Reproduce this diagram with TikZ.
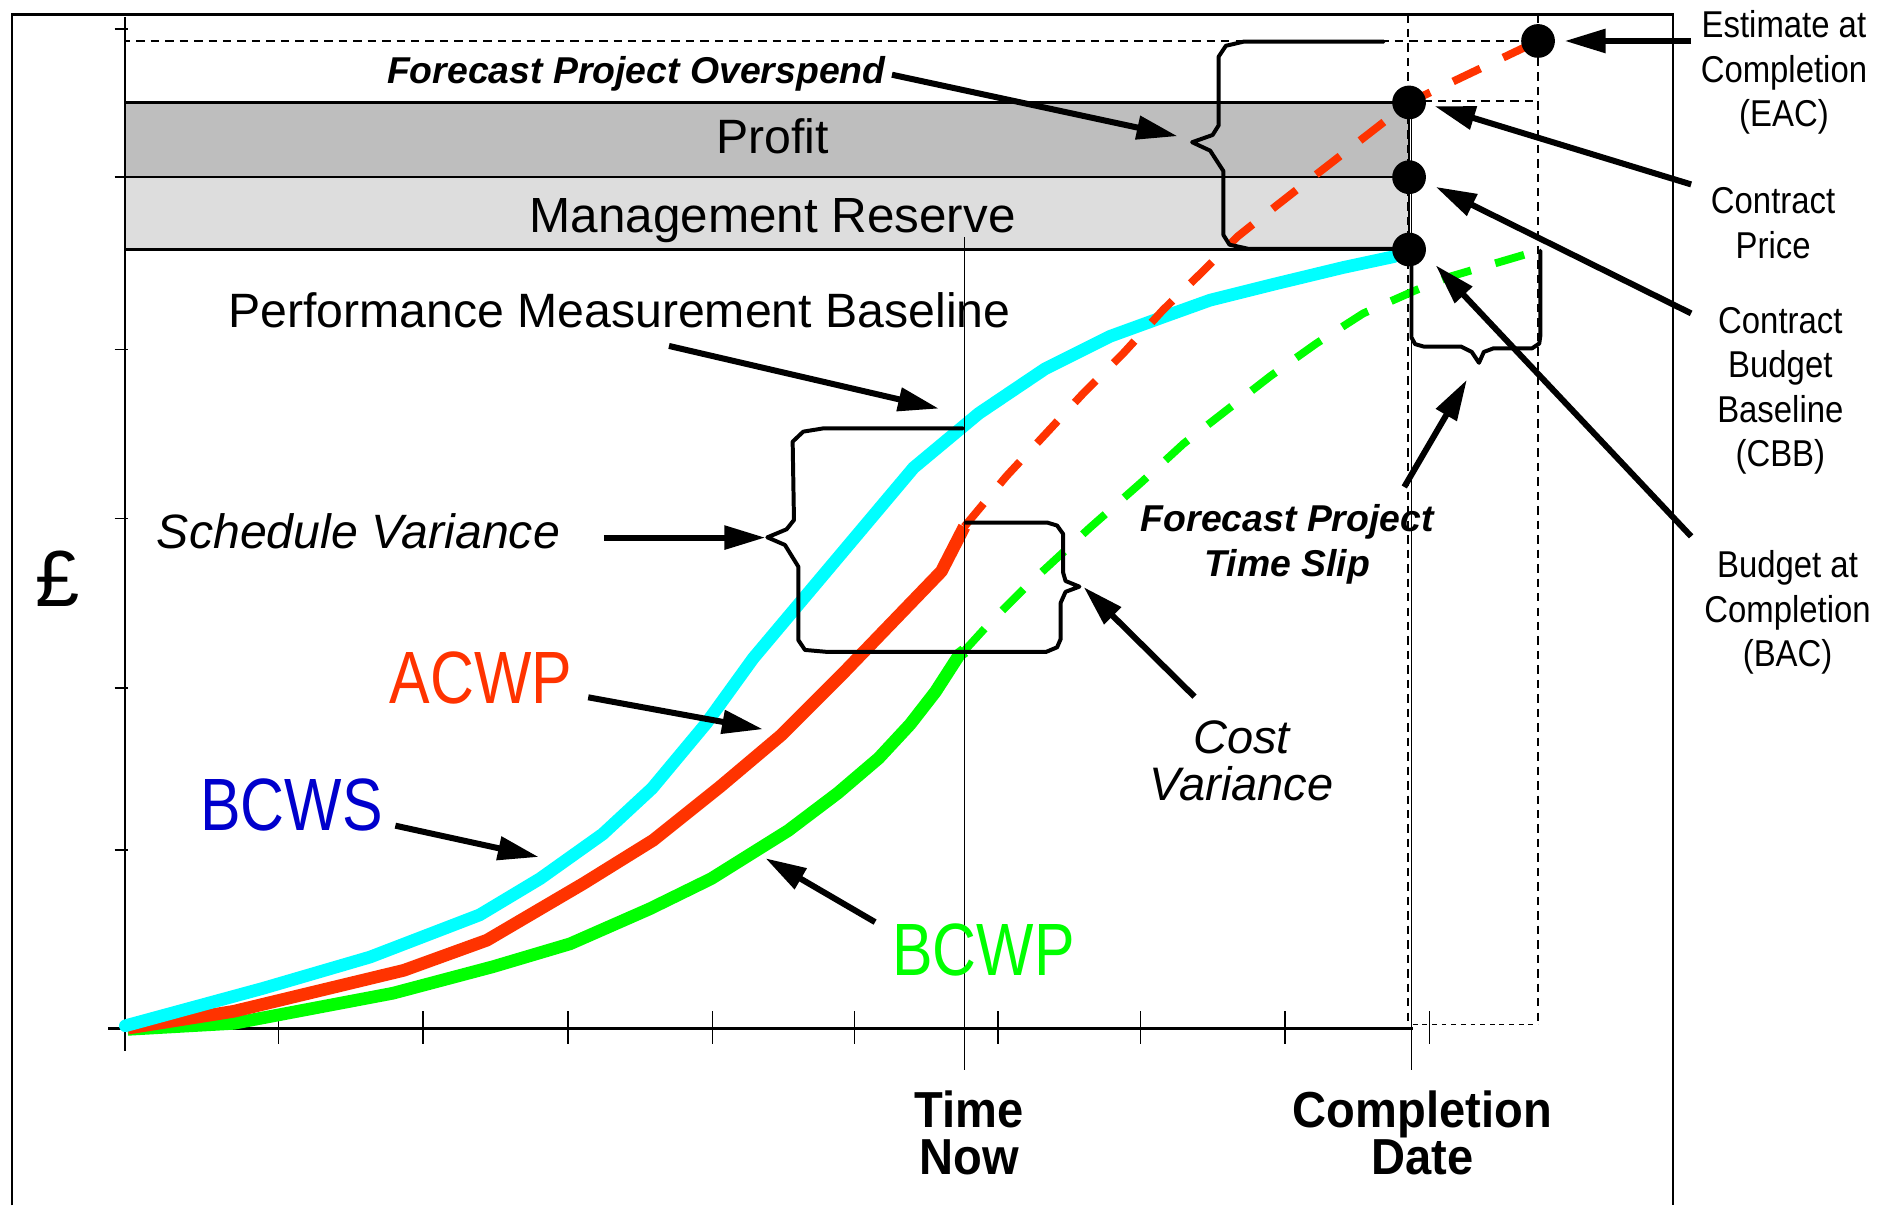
\documentclass[tikz,border=0pt]{standalone}
\usepackage{fontspec}
\setmainfont{Liberation Sans}
\newfontfamily\narrowf[FakeStretch=0.88]{Liberation Sans}
\newfontfamily\condf[FakeStretch=0.82]{Liberation Sans}
\newfontfamily\boldf[FakeStretch=0.93]{Liberation Sans}
\usetikzlibrary{arrows.meta}
\newcommand{\myfs}[2]{\fontsize{#1pt}{#2pt}\selectfont}
\definecolor{cyanc}{RGB}{0,255,255}
\definecolor{redc}{RGB}{255,51,0}
\definecolor{greenc}{RGB}{0,255,0}
\definecolor{bluec}{RGB}{0,0,204}
\definecolor{profitc}{RGB}{190,190,190}
\definecolor{mrc}{RGB}{221,221,221}
\begin{document}
\begin{tikzpicture}[x=1pt,y=-1pt,
  frameline/.style={line width=1.8pt},
  thinline/.style={line width=1.3pt},
  tickline/.style={line width=1.3pt},
  dashthin/.style={line width=1.4pt, dash pattern=on 7pt off 5pt},
  bracestyle/.style={line width=3.3pt, line join=round, line cap=round},
  arr/.style={line width=5pt, -{Triangle[length=34pt,width=19pt]}},
  curve/.style={line width=10.5pt, line join=round},
  dcurve/.style={line width=6.5pt, dash pattern=on 25pt off 21pt},
  dot/.style={circle, fill=black, inner sep=0pt, minimum size=28pt},
  lab/.style={inner sep=0pt},
  rlab/.style={inner sep=0pt, anchor=north, align=center, font=\narrowf\myfs{31}{37}}
]
\useasboundingbox (0,0) rectangle (1568,1000);

% bars
\draw[frameline, fill=profitc] (104,85) rectangle (1169,147);
\draw[frameline, fill=mrc] (104,147) rectangle (1169,207);

% outer frame
\draw[frameline] (10,1000) -- (10,12) -- (1388,12) -- (1388,1000);

% dashed guides
\draw[dashthin] (104,85) -- (104,34) -- (1276,34);
\draw[dashthin] (1168,12) -- (1168,853);
\draw[dashthin] (1276,12) -- (1276,850);
\draw[dashthin] (1169,84) -- (1276,84);
\draw[line width=1.4pt, dash pattern=on 4pt off 4pt] (1172,850) -- (1276,850);

% axes
\draw[line width=1.8pt] (104,14) -- (104,872);
\draw[line width=2.5pt] (90,853) -- (1172,853);
\foreach \yy in {24,147,290,430,571,705} \draw[tickline] (95,\yy) -- (106,\yy);
\foreach \xx in {231,351,471,591,709,828,946,1066,1186} \draw[tickline] (\xx,839) -- (\xx,866);

% curves (solid)
\draw[curve, greenc] (106,854) -- (194,849) -- (326,824) -- (409,802) -- (473,783) -- (539,754) -- (590,729) -- (654,689) -- (695,658) -- (729,629) -- (755,601) -- (776,574) -- (796,543) -- (800,540);
\draw[curve, redc] (106,853) -- (194,839) -- (335,805) -- (404,780) -- (484,733) -- (542,697) -- (597,653) -- (648,610) -- (700,558) -- (781,474) -- (800,437);
\draw[curve, cyanc, line cap=round] (104,851) -- (218,820) -- (307,794) -- (398,759) -- (448,729) -- (500,692) -- (541,654) -- (586,600) -- (625,546) -- (758,388) -- (812,343) -- (867,306) -- (921,279) -- (965,263) -- (1004,249) -- (1056,236) -- (1114,222) -- (1156,213) -- (1169,207);

% curves (dashed forecasts)
\draw[dcurve, redc] (800,437) -- (835,395) -- (899,326) -- (932,293) -- (965,257) -- (998,225) -- (1027,196) -- (1047,180) -- (1084,151) -- (1169,85) -- (1276,34);
\draw[dcurve, greenc] (800,540) -- (821,517) -- (853,485) -- (904,438) -- (946,401) -- (982,368) -- (1018,340) -- (1054,312) -- (1092,285) -- (1131,260) -- (1174,241) -- (1203,229.5) -- (1276,208);

% time lines
\draw[thinline] (800,197) -- (800,888);
\draw[thinline] (1171,85) -- (1171,888);

% braces
\draw[bracestyle] (1148,34.5) -- (1032,34.5) -- (1017,38) -- (1011,47) -- (1011,104) -- (1006,112) -- (989,118) -- (1004,125) -- (1015,142) -- (1015,195) -- (1020,203) -- (1036,206.5) -- (1156,206.5);
\draw[bracestyle] (799,355.4) -- (683,355.4) -- (666.4,358.1) -- (657.6,366.4) -- (658.7,431.4) -- (652.6,439.1) -- (636.6,445.8) -- (651.2,452.1) -- (662.3,470.1) -- (662.3,531) -- (667.8,539.2) -- (685.8,540.8) -- (868,540.8) -- (877,537) -- (880,530) -- (880,500) -- (884,491) -- (895.5,486.7) -- (884,482) -- (882,475) -- (882,443) -- (877,436) -- (869,433.6) -- (801,433.6);
\draw[bracestyle] (1171,221) -- (1171,280) -- (1174,285.5) -- (1181,287.5) -- (1212,287.5) -- (1221,292) -- (1227,301) -- (1231,292) -- (1239,289) -- (1271,289) -- (1277,285) -- (1278,278) -- (1278,208);

% dots
\node[dot] (eac) at (1276,34) {};
\node[dot] (cp) at (1169,85) {};
\node[dot] (cbb) at (1169,147) {};
\node[dot] (bac) at (1169,207) {};

% arrow end points
\coordinate (eacT) at (1403,34);   \coordinate (eacH) at (1298,34);
\coordinate (cpT) at (1403,153);   \coordinate (cpH) at (1190,88);
\coordinate (cbbT) at (1403,260);  \coordinate (cbbH) at (1191,155);
\coordinate (bacT) at (1403,445);  \coordinate (bacH) at (1191,220);
\coordinate (tsT) at (1165,404);   \coordinate (tsH) at (1217,315);
\coordinate (ovT) at (740,62);     \coordinate (ovH) at (977,113);
\coordinate (pmbT) at (555,287);   \coordinate (pmbH) at (779,339);
\coordinate (svT) at (501,446);    \coordinate (svH) at (635,446);
\coordinate (acT) at (488,578.5);  \coordinate (acH) at (633,605);
\coordinate (bsT) at (328,685);    \coordinate (bsH) at (447,711);
\coordinate (bpT) at (726,765);    \coordinate (bpH) at (635,712);
\coordinate (cvT) at (991,578);    \coordinate (cvH) at (899,487);

\draw[arr] (eacT) -- (eacH);
\draw[arr] (cpT) -- (cpH);
\draw[arr] (cbbT) -- (cbbH);
\draw[arr] (bacT) -- (bacH);
\draw[arr] (tsT) -- (tsH);
\draw[arr] (ovT) -- (ovH);
\draw[arr] (pmbT) -- (pmbH);
\draw[arr] (svT) -- (svH);
\draw[arr] (acT) -- (acH);
\draw[arr] (bsT) -- (bsH);
\draw[arr] (bpT) -- (bpH);
\draw[arr] (cvT) -- (cvH);

% texts
\node[lab, anchor=base] (profit) at (641,127) {\myfs{40}{48}Profit};
\node[lab, anchor=base] (mr) at (641,193) {\myfs{41}{48}Management Reserve};
\node[lab, anchor=base west] (ov) at (321,69) {\myfs{31}{36}\bfseries\itshape Forecast Project Overspend};
\node[lab, anchor=base west] (pmb) at (189,272) {\myfs{40}{48}Performance Measurement Baseline};
\node[lab, anchor=base west] (sv) at (130,455) {\myfs{40}{48}\itshape Schedule Variance};
\node[lab, anchor=base west, text=redc] (acwp) at (323,584) {\condf\myfs{61.5}{70}ACWP};
\node[lab, anchor=base west, text=bluec] (bcws) at (166,689) {\condf\myfs{61.5}{70}BCWS};
\node[lab, anchor=base west, text=greenc] (bcwp) at (740,809) {\condf\myfs{61.5}{70}BCWP};
\node[lab, anchor=north, align=center, font=\myfs{39}{39}\itshape] (cv) at (1030,598) {Cost\\Variance};
\node[lab, anchor=north, align=center, font=\myfs{31}{38}\bfseries\itshape] (ts) at (1068,418) {Forecast Project\\Time Slip};
\node[lab, anchor=north, align=center, font=\boldf\myfs{42}{39}\bfseries] (tn) at (804,905) {Time\\Now};
\node[lab, anchor=north, align=center, font=\boldf\myfs{42}{39}\bfseries] (cd) at (1180,905) {Completion\\Date};
\node[lab, anchor=base] (pound) at (48,503) {\myfs{66}{70}£};
\node[rlab] (eacl) at (1480,8.5) {Estimate at\\Completion\\(EAC)};
\node[rlab] (cpl) at (1471,155.5) {Contract\\Price};
\node[rlab] (cbbl) at (1477,254.5) {Contract\\Budget\\Baseline\\(CBB)};
\node[rlab] (bacl) at (1483,456.5) {Budget at\\Completion\\(BAC)};
\end{tikzpicture}
\end{document}
